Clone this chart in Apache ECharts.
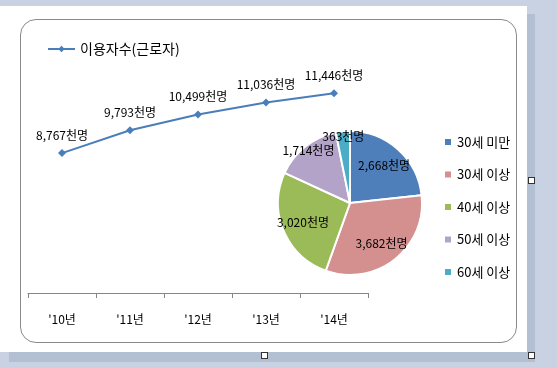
<!DOCTYPE html>
<html><head><meta charset="utf-8">
<script src="https://cdn.jsdelivr.net/npm/echarts@6/dist/echarts.min.js"></script>
<style>
html,body{margin:0;padding:0;}
#wrap{position:relative;width:557px;height:368px;background:#c8d2e3;overflow:hidden;}
#page{position:absolute;left:0;top:6px;width:527px;height:346px;background:#fff;}
#shadowR{position:absolute;left:527px;top:14px;width:8px;height:348px;background:#b3bfd3;}
#shadowB{position:absolute;left:9px;top:352px;width:526px;height:10px;background:#b3bfd3;}
#frame{position:absolute;left:20px;top:19px;width:495px;height:322px;border:1px solid #8a8a8a;border-radius:16px;}
.h{position:absolute;width:5px;height:5px;border:1px solid #333;background:#fff;}
#chart{position:absolute;left:0;top:0;width:557px;height:368px;}
</style></head>
<body>
<div id="wrap">
<div id="shadowR"></div><div id="shadowB"></div>
<div id="page"></div>
<div id="frame"></div>
<div class="h" style="left:261px;top:352px"></div>
<div class="h" style="left:528px;top:352px"></div>
<div class="h" style="left:528px;top:177px"></div>
<div id="chart"></div>
</div>
<script>
const years = ["'10년", "'11년", "'12년", "'13년", "'14년"];
const users = [8767, 9793, 10499, 11036, 11446];
const lineName = '이용자수(근로자)';
const ageGroups = ['30세 미만', '30세 이상', '40세 이상', '50세 이상', '60세 이상'];
const ageValues = [2668, 3682, 3020, 1714, 363];
const pieColors = ['#4F7FBB', '#D4908E', '#9BBB59', '#B3A3C8', '#4BACC6'];

const font = '"Noto Sans CJK KR", "Noto Sans", sans-serif';
const fmt = v => v.toLocaleString('en-US') + '천명';

const chart = echarts.init(document.getElementById('chart'), null, {renderer: 'canvas'});
const center = [350, 203];
const R = 72;

function labelPie(radius, showIdx) {
  return {
    type: 'pie', silent: true, center: center, radius: [0, radius],
    startAngle: 90, clockwise: true, z: 5,
    itemStyle: {color: 'rgba(0,0,0,0)', borderWidth: 0},
    labelLine: {show: false},
    data: ageGroups.map((n, i) => ({
      name: n, value: ageValues[i],
      itemStyle: {color: 'rgba(0,0,0,0)'},
      label: {show: showIdx.includes(i), position: 'inside', formatter: p => fmt(p.value),
              color: '#000', fontSize: 12, fontFamily: font}
    }))
  };
}

chart.setOption({
  animation: false,
  textStyle: {fontFamily: font},
  grid: {left: 28, right: 189, top: 43, bottom: 75},
  legend: [
    {data: [lineName], left: 47, top: 42, padding: 0, itemWidth: 27, itemHeight: 8, orient: 'horizontal',
     textStyle: {fontSize: 14, color: '#000', fontFamily: font}},
    {data: ageGroups, left: 443, top: 134, padding: 0, orient: 'vertical', itemWidth: 8, itemHeight: 8, itemGap: 16.5,
     icon: 'rect', textStyle: {fontSize: 13, color: '#000', lineHeight: 16, fontFamily: font}}
  ],
  xAxis: {
    type: 'category', data: years, boundaryGap: true,
    axisLine: {show: true, lineStyle: {color: '#868686', width: 1}},
    axisTick: {show: true, length: 5, inside: false, lineStyle: {color: '#868686', width: 1}},
    axisLabel: {margin: 20, fontSize: 12, color: '#000', fontFamily: font}
  },
  yAxis: {type: 'value', min: 2500, max: 13700, show: false, splitLine: {show: false}},
  series: [
    {
      name: lineName, type: 'line', data: users,
      symbol: 'diamond', symbolSize: 8,
      lineStyle: {color: '#4A7EBB', width: 2},
      itemStyle: {color: '#4A7EBB'},
      label: {show: true, position: 'top', distance: 8, formatter: p => fmt(p.value),
              color: '#000', fontSize: 12, fontFamily: font}
    },
    {
      type: 'pie', center: center, radius: [0, R], startAngle: 90, clockwise: true,
      label: {show: false}, labelLine: {show: false},
      itemStyle: {borderColor: '#fff', borderWidth: 2},
      data: ageGroups.map((n, i) => ({name: n, value: ageValues[i], itemStyle: {color: pieColors[i]}}))
    },
    labelPie(96, [0, 1, 2]),
    labelPie(128, [3, 4])
  ]
});
</script>
</body></html>
